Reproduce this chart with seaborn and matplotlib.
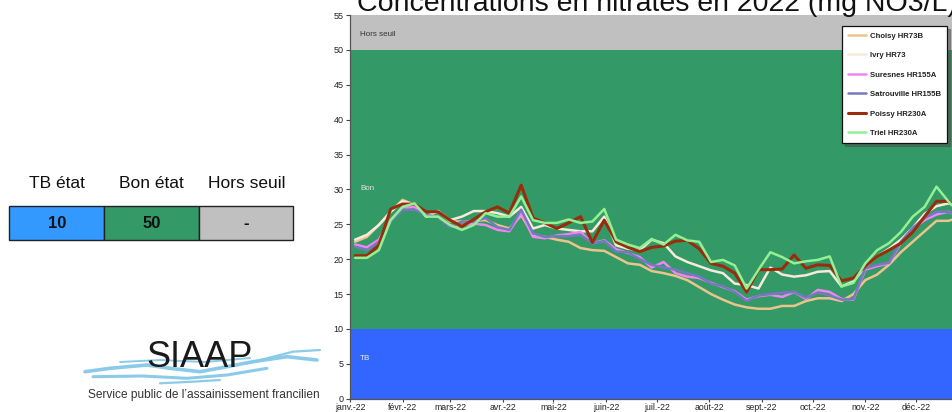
import matplotlib
matplotlib.use("Agg")
import matplotlib.pyplot as plt
from matplotlib.patches import Rectangle
from matplotlib.lines import Line2D
import numpy as np
import pandas as pd
import seaborn as sns

# ---------------- data ----------------
stations = ["Choisy HR73B", "Ivry HR73", "Suresnes HR155A",
            "Satrouville HR155B", "Poissy HR230A", "Triel HR230A"]
dates = pd.date_range("2022-01-04", periods=52, freq="7D")

choisy = [22.5, 23.2, 24.9, 26.8, 28.5, 27.8, 26.1, 26.9, 25.4, 25.4, 25.5, 25.6, 24.9,
          24.4, 26.3, 23.5, 23.2, 22.8, 22.5, 21.6, 21.3, 21.2, 20.3, 19.4, 19.2, 18.3,
          18.0, 17.6, 17.0, 16.0, 15.0, 14.2, 13.5, 13.1, 12.9, 12.9, 13.3, 13.3, 14.0,
          14.4, 14.4, 14.0, 15.0, 17.0, 17.8, 19.2, 21.0, 22.5, 24.0, 25.5, 25.5, 26.0]
ivry = [22.8, 23.5, 24.9, 26.8, 28.3, 27.8, 26.1, 26.9, 25.6, 26.1, 26.9, 26.9, 26.6,
        26.1, 27.5, 24.4, 24.9, 24.4, 24.2, 24.0, 24.0, 26.1, 22.0, 21.5, 21.3, 22.8,
        22.3, 20.4, 19.6, 19.0, 18.4, 18.0, 16.5, 16.3, 15.8, 18.8, 17.8, 17.5, 17.7,
        18.2, 18.3, 16.1, 16.8, 18.9, 20.4, 21.5, 22.8, 24.5, 26.5, 27.6, 28.0, 27.5]
suresnes = [22.1, 21.7, 22.8, 25.6, 27.3, 27.5, 26.3, 26.1, 24.7, 24.9, 25.1, 24.9, 24.2,
            24.0, 26.6, 23.2, 23.0, 23.4, 23.6, 23.9, 22.3, 22.7, 21.4, 20.9, 20.3, 18.8,
            19.6, 18.0, 17.5, 17.3, 16.6, 16.0, 15.4, 14.2, 14.7, 14.9, 14.6, 15.3, 14.3,
            15.6, 15.3, 14.3, 14.2, 18.5, 19.0, 19.4, 22.3, 24.3, 25.6, 26.4, 26.8, 26.0]
satrouville = [21.8, 21.3, 22.5, 25.4, 27.1, 27.1, 26.3, 26.1, 24.6, 25.4, 25.4, 25.9, 24.6,
               24.2, 27.1, 23.7, 23.2, 23.3, 23.3, 23.5, 22.3, 22.6, 21.1, 21.0, 20.0, 19.2,
               18.8, 18.5, 18.0, 17.5, 16.5, 16.1, 15.3, 14.0, 14.8, 15.0, 15.2, 15.3, 14.5,
               15.2, 14.8, 14.2, 14.3, 18.7, 19.2, 19.5, 22.5, 24.5, 25.9, 26.8, 26.8, 26.0]
poissy = [20.5, 20.5, 22.0, 27.2, 27.9, 27.9, 26.8, 26.8, 25.6, 24.7, 25.7, 26.8, 27.5,
          26.6, 30.6, 25.9, 25.2, 24.4, 25.2, 26.1, 22.4, 25.6, 22.5, 21.7, 21.1, 21.7,
          21.9, 22.6, 22.7, 21.5, 19.4, 19.0, 18.0, 15.3, 18.5, 18.5, 18.6, 20.6, 18.7,
          19.2, 19.1, 16.9, 17.3, 19.0, 20.4, 21.3, 22.3, 23.9, 26.1, 28.3, 28.3, 27.0]
triel = [20.2, 20.2, 21.3, 25.6, 27.5, 28.0, 26.1, 26.1, 24.9, 24.2, 24.9, 26.6, 26.1,
         26.1, 29.0, 25.6, 25.2, 25.2, 25.7, 25.2, 25.4, 27.2, 22.8, 22.1, 21.6, 22.9,
         22.1, 23.5, 22.7, 22.5, 19.6, 19.9, 19.1, 15.8, 18.5, 21.0, 20.3, 19.4, 19.7,
         19.9, 20.4, 16.1, 16.6, 19.4, 21.3, 22.3, 23.9, 26.1, 27.5, 30.4, 28.3, 26.5]

month_labels = ["janv.-22", "févr.-22", "mars-22", "avr.-22", "mai-22", "juin-22",
                "juil.-22", "août-22", "sept.-22", "oct.-22", "nov.-22", "déc.-22"]
y_ticks = list(range(0, 56, 5))

bands = [(0, 10, "#3366FF", "TB"), (10, 50, "#339966", "Bon"), (50, 55, "#C0C0C0", "Hors seuil")]

table_headers = ["TB état", "Bon état", "Hors seuil"]
table_values = ["10", "50", "-"]
table_colors = ["#3399FF", "#339966", "#C0C0C0"]

palette = {"Choisy HR73B": "#EBC48C", "Ivry HR73": "#F6EADB",
           "Suresnes HR155A": "#EE88EE", "Satrouville HR155B": "#7878C0",
           "Poissy HR230A": "#9A2C0C", "Triel HR230A": "#94F094"}

df = pd.DataFrame({"date": dates, "Choisy HR73B": choisy, "Ivry HR73": ivry,
                   "Suresnes HR155A": suresnes, "Satrouville HR155B": satrouville,
                   "Poissy HR230A": poissy, "Triel HR230A": triel})
long = df.melt(id_vars="date", var_name="station", value_name="value")

# ---------------- figure ----------------
sns.set_style("ticks")
plt.rcParams["font.family"] = ["Liberation Sans", "DejaVu Sans"]

W, H = 953, 412
fig = plt.figure(figsize=(W / 100, H / 100), dpi=100)


def fx(px):
    return px / W


def fy(py):
    return 1 - py / H


px_per_day = 1.695
x_start = pd.Timestamp("2022-01-01")
x_end = pd.Timestamp("2023-01-02")
ndays = (x_end - x_start).days
ax_left, ax_top, ax_bottom = 350, 15, 398.75
ax = fig.add_axes([fx(ax_left), fy(ax_bottom), ndays * px_per_day / W, (ax_bottom - ax_top) / H])

for lo, hi, col, name in bands:
    ax.axhspan(lo, hi, color=col, zorder=0, lw=0)

sns.lineplot(data=long, x="date", y="value", hue="station", hue_order=stations,
             palette=palette, linewidth=1.8, ax=ax, legend=True)
for line in ax.lines:
    if line.get_color().lower() == palette["Poissy HR230A"].lower():
        line.set_linewidth(2.2)

ax.set_xlim(x_start, x_end)
ax.set_ylim(0, 55)
ax.set_yticks(y_ticks)
ax.set_yticklabels([str(v) for v in y_ticks], fontsize=6.5, color="#222222")
month_starts = pd.date_range("2022-01-01", periods=12, freq="MS")
ax.set_xticks(month_starts)
ax.set_xticklabels(month_labels, fontsize=6.3, color="#222222")
ax.tick_params(axis="y", length=3, width=0.8, color="#444444", pad=1.5)
ax.tick_params(axis="x", length=2.5, width=0.8, color="#444444", pad=0.2)
ax.set_xlabel("")
ax.set_ylabel("")
for s in ["top", "right"]:
    ax.spines[s].set_visible(False)
for s in ["left", "bottom"]:
    ax.spines[s].set_color("#555555")
    ax.spines[s].set_linewidth(0.9)

tx = pd.Timestamp("2022-01-07")
ax.text(tx, 52.2, "Hors seuil", fontsize=5.8, color="#333333", va="center", ha="left")
ax.text(tx, 30.2, "Bon", fontsize=5.8, color="#E6E6E6", va="center", ha="left")
ax.text(tx, 5.8, "TB", fontsize=5.8, color="#F0F0F0", va="center", ha="left")

leg = ax.legend(loc="upper right", bbox_to_anchor=(fx(951), fy(22)),
                bbox_transform=fig.transFigure, frameon=True, fancybox=False,
                shadow=True, framealpha=1, edgecolor="#111111",
                prop={"size": 5.6, "weight": "bold"}, handlelength=2.3,
                labelspacing=1.55, borderpad=0.8, handletextpad=0.5)
leg.get_frame().set_linewidth(0.9)
for t in leg.get_texts():
    t.set_color("#222222")

# title (cropped at top as in the reference)
fig.text(fx(357), fy(11), "Concentrations en nitrates en 2022 (mg NO3/L)",
         fontsize=20.5, ha="left", va="baseline", color="#111111")

# ---------------- left table ----------------
cell_x = [9.3, 104.3, 199.3, 293.3]
cell_top, cell_bot = 205.7, 240.0
for i in range(3):
    fig.add_artist(Rectangle((fx(cell_x[i]), fy(cell_bot)), (cell_x[i + 1] - cell_x[i]) / W,
                             (cell_bot - cell_top) / H, transform=fig.transFigure,
                             facecolor=table_colors[i], edgecolor="#222222", lw=1.0))
    cx = (cell_x[i] + cell_x[i + 1]) / 2
    fig.text(fx(cx), fy(183.5), table_headers[i], fontsize=12.5, ha="center", va="center",
             color="#111111")
    fig.text(fx(cx), fy((cell_top + cell_bot) / 2 + 0.5), table_values[i], fontsize=12,
             weight="bold", ha="center", va="center", color="#111111")

# ---------------- logo ----------------
strokes = [
    ([85, 110, 147, 170, 200, 227, 253, 287, 317], [371.7, 368.3, 365, 368.3, 371.7, 366.7, 361.7, 356.7, 360], 2.6),
    ([93, 143, 187, 227, 267], [376.7, 376, 378.3, 375, 368.3], 2.2),
    ([160, 193, 220], [383.3, 381.7, 380], 1.6),
    ([247, 293, 320], [363.3, 351.7, 350], 1.6),
    ([120, 160, 205, 250], [362, 360, 362, 358], 1.4),
]
for xs, ys, lw in strokes:
    fig.add_artist(Line2D([fx(v) for v in xs], [fy(v) for v in ys], transform=fig.transFigure,
                          color="#86C8E8", lw=lw, solid_capstyle="round", alpha=0.95))
fig.text(fx(199.5), fy(367), "SIAAP", fontsize=26, ha="center", va="baseline",
         color="#1a1a1a")
fig.text(fx(203.5), fy(395), "Service public de l’assainissement francilien", fontsize=8.6,
         ha="center", va="center", color="#333333")

fig.savefig("out.png", dpi=100)
